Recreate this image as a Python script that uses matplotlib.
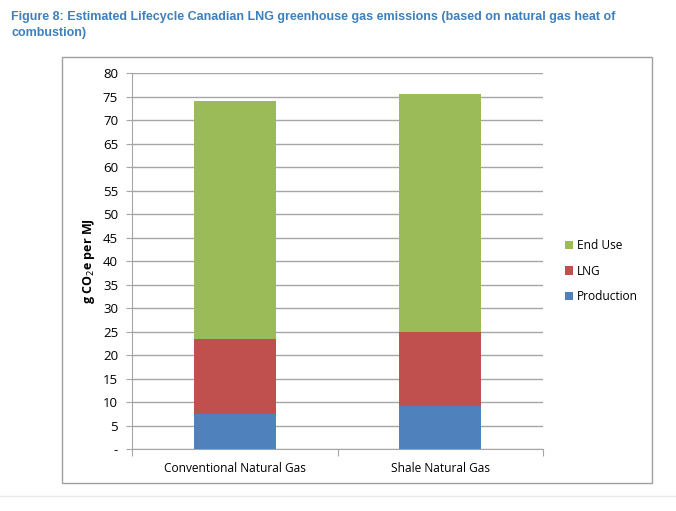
import numpy as np
import matplotlib.pyplot as plt
from matplotlib.patches import Rectangle
from matplotlib.lines import Line2D

categories = ["Conventional Natural Gas", "Shale Natural Gas"]
production = [7.5, 9.1]
lng = [15.9, 15.8]
end_use = [50.7, 50.6]
yticks = [0, 5, 10, 15, 20, 25, 30, 35, 40, 45, 50, 55, 60, 65, 70, 75, 80]
ytick_labels = ["-"] + [str(v) for v in yticks[1:]]

c_prod = "#4F81BD"
c_lng = "#C0504D"
c_end = "#9BBB59"
grid_c = "#A6A6A6"

fig = plt.figure(figsize=(6.76, 5.11), dpi=100)
fig.patch.set_facecolor("white")

# outer chart frame and the faint page line below it
fig.add_artist(Rectangle((62/676, 1-483/511), (652-62)/676, (483-57)/511,
                         transform=fig.transFigure, fill=False, edgecolor="#A0A0A0", lw=1.0))
fig.add_artist(Line2D([0, 1], [1-496/511, 1-496/511], transform=fig.transFigure,
                      color="#E8E8E8", lw=1.0))

fig.text(11/676, 1-25/511, "Figure 8: Estimated Lifecycle Canadian LNG greenhouse gas emissions (based on natural gas heat of\ncombustion)",
         family="Liberation Sans", fontweight="bold", fontsize=9.0, color="#3F7FBA",
         va="center", ha="left", linespacing=1.35)

ax = fig.add_axes([132/676, 1-449/511, (543-132)/676, (449-73)/511])
x = np.arange(len(categories))
w = 0.4
ax.bar(x, production, w, color=c_prod, label="Production", zorder=3)
ax.bar(x, lng, w, bottom=production, color=c_lng, label="LNG", zorder=3)
bottom2 = np.array(production) + np.array(lng)
ax.bar(x, end_use, w, bottom=bottom2, color=c_end, label="End Use", zorder=3)

ax.set_xlim(-0.5, 1.5)
ax.set_ylim(0, 80)
ax.set_yticks(yticks)
ax.set_yticklabels(ytick_labels, family="Open Sans", fontsize=9.5)
ax.set_xticks([-0.5, 0.5, 1.5])
ax.set_xticklabels([])
ax.set_xticks(x, minor=True)
ax.set_xticklabels(categories, minor=True, family="Open Sans", fontsize=8.6)
ax.tick_params(axis="x", which="minor", length=0, pad=9)
ax.tick_params(axis="x", which="major", length=5, color=grid_c, direction="out")
ax.tick_params(axis="y", length=4, color=grid_c, direction="out", pad=6)
ax.yaxis.grid(True, color=grid_c, lw=1.0, zorder=0)
ax.set_axisbelow(True)
for s in ["top", "right"]:
    ax.spines[s].set_visible(False)
ax.spines["left"].set_color(grid_c)
ax.spines["bottom"].set_color(grid_c)

ax.set_ylabel("g CO$_2$e per MJ", family="Open Sans", fontweight="bold", fontsize=9, labelpad=4)

handles, labels = ax.get_legend_handles_labels()
leg = fig.legend(handles[::-1], labels[::-1], loc="center left", bbox_to_anchor=(554/676, 1-271/511),
                 frameon=False, prop={"family": "Open Sans", "size": 8.6},
                 handlelength=0.7, handleheight=0.7, handletextpad=0.3, labelspacing=1.05)

plt.savefig("out.png", dpi=100)
